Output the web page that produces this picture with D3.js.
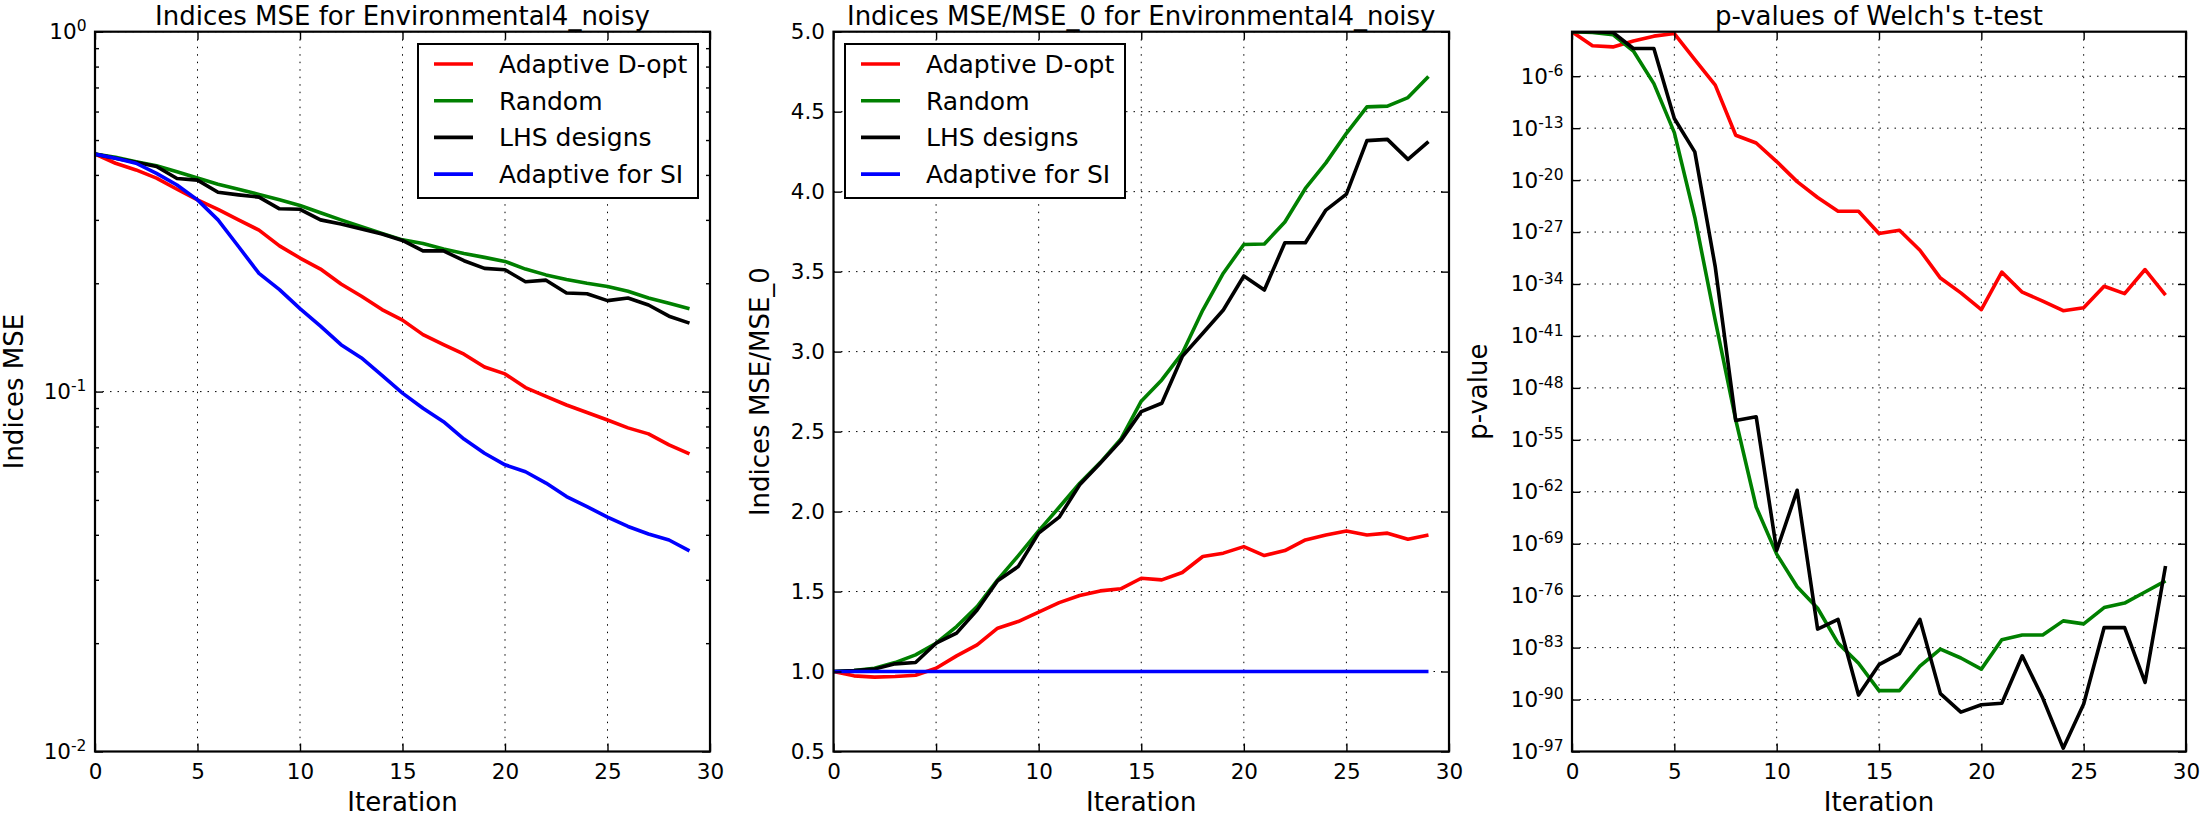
<!DOCTYPE html>
<html>
<head>
<meta charset="utf-8">
<script src="https://cdn.jsdelivr.net/npm/d3@7"></script>
<style>
  body { margin: 0; background: #fff; }
  text { font-family: "DejaVu Sans", sans-serif; fill: #000; }
</style>
</head>
<body>
<svg id="chart"></svg>
<script>
'use strict';

// Data
const iterations = [0, 1, 2, 3, 4, 5, 6, 7, 8, 9, 10, 11, 12, 13, 14, 15, 16, 17, 18, 19, 20, 21, 22, 23, 24, 25, 26, 27, 28, 29];
const seriesNames = ['Adaptive D-opt', 'Random', 'LHS designs', 'Adaptive for SI'];
const seriesColors = ['#ff0000', '#008000', '#000000', '#0000ff'];
const xTicks = [0, 5, 10, 15, 20, 25, 30];

// Indices MSE
const mseDopt = [0.457, 0.431, 0.413, 0.392, 0.365, 0.341, 0.321, 0.300, 0.281, 0.254, 0.235, 0.219, 0.199, 0.184, 0.169, 0.158, 0.144, 0.135, 0.127, 0.117, 0.112, 0.1026, 0.097, 0.0918, 0.0875, 0.0834, 0.0793, 0.0763, 0.0711, 0.0671];
const mseRandom = [0.457, 0.448, 0.435, 0.424, 0.408, 0.392, 0.377, 0.365, 0.353, 0.341, 0.329, 0.314, 0.300, 0.287, 0.275, 0.264, 0.258, 0.249, 0.242, 0.236, 0.230, 0.219, 0.211, 0.205, 0.200, 0.196, 0.190, 0.182, 0.176, 0.170];
const mseLHS = [0.457, 0.445, 0.434, 0.422, 0.391, 0.387, 0.358, 0.352, 0.347, 0.322, 0.321, 0.300, 0.292, 0.283, 0.274, 0.263, 0.246, 0.246, 0.231, 0.220, 0.218, 0.202, 0.204, 0.188, 0.187, 0.179, 0.182, 0.174, 0.162, 0.155];
const mseSI = [0.457, 0.445, 0.431, 0.404, 0.375, 0.341, 0.300, 0.253, 0.213, 0.192, 0.170, 0.152, 0.135, 0.124, 0.111, 0.0990, 0.0899, 0.0825, 0.0738, 0.0674, 0.0626, 0.0599, 0.0557, 0.0511, 0.0479, 0.0448, 0.0422, 0.0402, 0.0387, 0.0361];
const mseMajorTicks = [0.01, 0.1, 1];
const mseMinorTicks = [0.02, 0.03, 0.04, 0.05, 0.06, 0.07, 0.08, 0.09, 0.2, 0.3, 0.4, 0.5, 0.6, 0.7, 0.8, 0.9];

// Indices MSE / MSE_0
const ratioDopt = [1.0, 0.973, 0.965, 0.969, 0.977, 1.02, 1.098, 1.167, 1.271, 1.3125, 1.371, 1.431, 1.475, 1.504, 1.517, 1.583, 1.573, 1.619, 1.719, 1.740, 1.781, 1.725, 1.756, 1.823, 1.854, 1.879, 1.854, 1.865, 1.827, 1.854];
const ratioRandom = [1.0, 1.006, 1.021, 1.056, 1.104, 1.177, 1.281, 1.406, 1.573, 1.723, 1.879, 2.027, 2.177, 2.306, 2.452, 2.69, 2.823, 2.99, 3.26, 3.49, 3.67, 3.673, 3.81, 4.02, 4.18, 4.365, 4.53, 4.535, 4.588, 4.72];
const ratioLHS = [1.0, 1.006, 1.015, 1.048, 1.056, 1.177, 1.24, 1.385, 1.567, 1.656, 1.865, 1.965, 2.167, 2.302, 2.442, 2.625, 2.677, 2.97, 3.115, 3.26, 3.473, 3.385, 3.681, 3.681, 3.885, 3.985, 4.319, 4.327, 4.202, 4.3125];
const ratioSI = [1, 1, 1, 1, 1, 1, 1, 1, 1, 1, 1, 1, 1, 1, 1, 1, 1, 1, 1, 1, 1, 1, 1, 1, 1, 1, 1, 1, 1, 1];
const ratioTicks = [0.5, 1.0, 1.5, 2.0, 2.5, 3.0, 3.5, 4.0, 4.5, 5.0];

// p-values of Welch's t-test
const pDopt = [1, 1.26e-2, 8.9e-3, 5.75e-2, 0.251, 0.562, 1.78e-4, 6.3e-8, 1.12e-14, 1e-15, 3.16e-18, 6.3e-21, 4.5e-23, 6.3e-25, 6.3e-25, 6.3e-28, 1.78e-27, 3.55e-30, 6.3e-34, 6.3e-36, 3.55e-38, 3.98e-33, 7.9e-36, 5.0e-37, 2.5e-38, 6.3e-38, 5.0e-35, 5.0e-36, 8.9e-33, 3.16e-36];
const pRandom = [1, 0.794, 0.398, 2.5e-3, 1e-7, 2.5e-14, 1e-25, 1.26e-39, 5.0e-53, 8.9e-65, 4.0e-71, 1.58e-75, 2.0e-78, 4.0e-83, 7.9e-86, 1.58e-89, 1.58e-89, 3.16e-86, 6.3e-84, 4.0e-85, 1.26e-86, 1.12e-82, 5.0e-82, 5.0e-82, 4.0e-80, 1.58e-80, 2.5e-78, 1e-77, 3.16e-76, 1e-74];
const pLHS = [1, 1, 0.794, 5.4e-3, 5.4e-3, 2.0e-12, 6.3e-17, 2.0e-32, 4.0e-53, 1.26e-52, 1.26e-70, 1.58e-62, 3.16e-81, 6.3e-80, 4.0e-90, 5.0e-86, 1.58e-84, 6.3e-80, 6.3e-90, 2.0e-92, 2.0e-91, 3.16e-91, 7.9e-85, 1.58e-90, 2.8e-97, 2.5e-91, 5.0e-81, 5.0e-81, 2.0e-88, 1e-72];
const pTickExponents = [-6, -13, -20, -27, -34, -41, -48, -55, -62, -69, -76, -83, -90, -97];

// Layout
const w = 2202;
const h = 816;
const plotTop = 31.7;
const plotBottom = 751.5;
const tickFont = 21.5;
const bigFont = 26;

const svg = d3.select('#chart')
  .attr('width', w)
  .attr('height', h);

const panels = [
  {
    x0: 95, x1: 710,
    title: 'Indices MSE for Environmental4_noisy',
    ylabel: 'Indices MSE', ylabelX: 13.5,
    y: d3.scaleLog().domain([0.01, 1]),
    ticks: mseMajorTicks, minor: mseMinorTicks, sup: true,
    series: [mseDopt, mseRandom, mseLHS, mseSI],
    legend: 'right'
  },
  {
    x0: 833.5, x1: 1449,
    title: 'Indices MSE/MSE_0 for Environmental4_noisy',
    ylabel: 'Indices MSE/MSE_0', ylabelX: 760,
    y: d3.scaleLinear().domain([0.5, 5.0]),
    ticks: ratioTicks, minor: [], sup: false,
    series: [ratioDopt, ratioRandom, ratioLHS, ratioSI],
    legend: 'left'
  },
  {
    x0: 1572, x1: 2186,
    title: "p-values of Welch's t-test",
    ylabel: 'p-value', ylabelX: 1478,
    y: d3.scaleLog().domain([1e-97, 1]),
    ticks: pTickExponents.map(e => Math.pow(10, e)), minor: [], sup: true,
    series: [pDopt, pRandom, pLHS],
    legend: null
  }
];

panels.forEach((p, pi) => {
  const x = d3.scaleLinear().domain([0, 30]).range([p.x0, p.x1]);
  const y = p.y.range([plotBottom, plotTop]);
  const g = svg.append('g');

  // Grid
  g.selectAll('.vgrid')
    .data(xTicks.slice(1, -1))
    .enter().append('line')
    .attr('x1', d => x(d)).attr('x2', d => x(d))
    .attr('y1', plotTop).attr('y2', plotBottom)
    .attr('stroke', '#000').attr('stroke-width', 1)
    .attr('stroke-dasharray', '1.5,6');
  g.selectAll('.hgrid')
    .data(p.ticks)
    .enter().append('line')
    .attr('x1', p.x0).attr('x2', p.x1)
    .attr('y1', d => y(d)).attr('y2', d => y(d))
    .attr('stroke', '#000').attr('stroke-width', 1)
    .attr('stroke-dasharray', '1.5,6');

  // Lines
  const clipId = 'clip' + pi;
  svg.append('clipPath').attr('id', clipId)
    .append('rect')
    .attr('x', p.x0).attr('y', plotTop)
    .attr('width', p.x1 - p.x0).attr('height', plotBottom - plotTop);

  const line = d3.line()
    .x((d, i) => x(iterations[i]))
    .y(d => y(d));

  g.append('g').attr('clip-path', `url(#${clipId})`)
    .selectAll('path')
    .data(p.series)
    .enter().append('path')
    .attr('d', line)
    .attr('fill', 'none')
    .attr('stroke', (d, i) => seriesColors[i])
    .attr('stroke-width', 3.6)
    .attr('stroke-linejoin', 'round');

  // Axes with inside ticks
  g.append('g').attr('transform', `translate(0, ${plotBottom})`)
    .call(d3.axisBottom(x).tickValues(xTicks).tickSize(-8).tickPadding(12).tickFormat(d3.format('d')));
  g.append('g').attr('transform', `translate(0, ${plotTop})`)
    .call(d3.axisTop(x).tickValues(xTicks).tickSize(-8).tickFormat(''));

  const yl = g.append('g').attr('transform', `translate(${p.x0}, 0)`)
    .call(d3.axisLeft(y).tickValues(p.ticks).tickSize(-8).tickPadding(8.5)
      .tickFormat(p.sup ? d => Math.round(Math.log10(d)) : d3.format('.1f')));
  g.append('g').attr('transform', `translate(${p.x1}, 0)`)
    .call(d3.axisRight(y).tickValues(p.ticks).tickSize(-8).tickFormat(''));

  if (p.minor.length) {
    g.append('g').attr('transform', `translate(${p.x0}, 0)`)
      .call(d3.axisLeft(y).tickValues(p.minor).tickSize(-4).tickFormat(''));
    g.append('g').attr('transform', `translate(${p.x1}, 0)`)
      .call(d3.axisRight(y).tickValues(p.minor).tickSize(-4).tickFormat(''));
  }

  g.selectAll('.domain').remove();
  g.selectAll('.tick line').attr('stroke', '#000').attr('stroke-width', 1.4);
  g.selectAll('.tick text')
    .style('font-family', '"DejaVu Sans", sans-serif')
    .style('font-size', tickFont + 'px')
    .attr('fill', '#000');

  // Superscript labels for log axes: 10^n
  if (p.sup) {
    yl.selectAll('.tick text').each(function (d) {
      const e = Math.round(Math.log10(d));
      const t = d3.select(this).text('');
      t.append('tspan').text('10');
      t.append('tspan').text(e).attr('dy', '-0.5em').style('font-size', '15.5px');
    });
  }

  // Frame
  g.append('rect')
    .attr('x', p.x0).attr('y', plotTop)
    .attr('width', p.x1 - p.x0).attr('height', plotBottom - plotTop)
    .attr('fill', 'none').attr('stroke', '#000').attr('stroke-width', 2.2);

  // Title and labels
  g.append('text')
    .attr('x', (p.x0 + p.x1) / 2).attr('y', 24.5)
    .attr('text-anchor', 'middle')
    .style('font-size', bigFont + 'px')
    .text(p.title);
  g.append('text')
    .attr('x', (p.x0 + p.x1) / 2).attr('y', 811)
    .attr('text-anchor', 'middle')
    .style('font-size', bigFont + 'px')
    .text('Iteration');
  g.append('text')
    .attr('transform', `translate(${p.ylabelX}, ${(plotTop + plotBottom) / 2}) rotate(-90)`)
    .attr('dy', '0.36em')
    .attr('text-anchor', 'middle')
    .style('font-size', bigFont + 'px')
    .text(p.ylabel);

  // Legend
  if (p.legend) {
    const lw = 280, lh = 154;
    const lx = p.legend === 'right' ? p.x1 - 12 - lw : p.x0 + 11.5;
    const ly = 44;
    const legend = g.append('g').attr('transform', `translate(${lx}, ${ly})`);
    legend.append('rect')
      .attr('width', lw).attr('height', lh)
      .attr('fill', '#fff').attr('stroke', '#000').attr('stroke-width', 2);
    const items = legend.selectAll('.item')
      .data(seriesNames)
      .enter().append('g')
      .attr('transform', (d, i) => `translate(0, ${20 + i * 36.7})`);
    items.append('line')
      .attr('x1', 16).attr('x2', 55)
      .attr('stroke', (d, i) => seriesColors[i])
      .attr('stroke-width', 3.6);
    items.append('text')
      .attr('x', 81).attr('dy', '0.36em')
      .style('font-size', '25px')
      .text(d => d);
  }
});
</script>
</body>
</html>
